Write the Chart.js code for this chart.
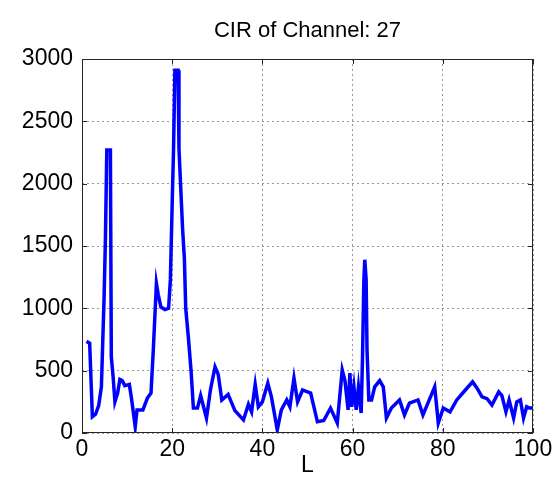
<!DOCTYPE html>
<html lang="en">
<head>
  <meta charset="UTF-8">
  <title>CIR of Channel: 27</title>
  <script src="https://cdn.jsdelivr.net/npm/chart.js"></script>
  <style>
    body { margin: 0; background: #fff; }
    #cir { display: block; }
  </style>
</head>
<body>
<canvas id="cir" width="556" height="501"></canvas>
<script>
  const titleText = "CIR of Channel: 27";
  const xLabel = "L";

  // tap index and impulse response magnitude
  const lags = [
    1, 1.7, 2.3, 3, 3.7, 4.3, 4.9, 5.2, 5.5, 6.3, 6.5, 6.9, 7.3, 7.9, 8.4, 8.9, 9.5, 10.5, 11, 11.8,
    12.2, 13.5, 14.5, 15.3, 15.8, 16.5, 16.9, 17.5, 18.4, 19.2, 19.6, 20, 20.3, 20.6, 21.3, 21.5, 21.9, 22.3, 22.7, 23,
    23.6, 24.2, 24.7, 25.6, 26.3, 27.6, 28.5, 29.5, 30.2, 31, 32.4, 33.9, 35.8, 36.9, 37.6, 38.4, 39.1, 40, 41.2, 42,
    43.3, 44.2, 45.4, 46.1, 47, 47.8, 48.9, 50.7, 52.2, 53.6, 55.1, 56.6, 57.7, 58.3, 59, 59.4, 59.8, 60.3, 60.8, 61.3,
    61.9, 62.2, 62.5, 62.7, 63, 63.2, 63.6, 64.2, 64.9, 66, 66.8, 67.5, 68.6, 70.4, 71.5, 72.6, 74.5, 75.6, 76.7, 78.2,
    79, 80.1, 81.6, 83.1, 85, 86.6, 87.6, 88.7, 89.8, 90.9, 92.4, 93.1, 94, 94.7, 95.7, 96.4, 97.2, 97.9, 98.6, 99.2, 100
  ];
  const cir = [
    735, 720, 130, 150, 220, 370, 1090, 1570, 2270, 2270, 610, 450, 250, 320, 430, 420, 380, 390, 270, 50,
    185, 185, 280, 320, 660, 1200, 1110, 1010, 990, 1000, 1230, 1850, 2280, 2910, 2910, 2280, 1960, 1640, 1400, 1000,
    760, 490, 200, 200, 300, 120, 350, 530, 470, 265, 310, 180, 105, 230, 170, 390, 210, 250, 400, 290,
    25, 185, 265, 210, 440, 250, 345, 320, 90, 100, 200, 80, 505, 420, 185, 480, 210, 370, 185, 370,
    160, 610, 1230, 1390, 1230, 665, 265, 265, 370, 420, 370, 120, 200, 265, 145, 240, 265, 145, 240, 370,
    80, 200, 170, 265, 345, 410, 360, 290, 275, 225, 330, 300, 170, 265, 120, 250, 265, 120, 210, 200, 200
  ];

  const xTicks = [0, 20, 40, 60, 80, 100];
  const yTicks = [0, 500, 1000, 1500, 2000, 2500, 3000];

  // axes box, inward tick marks on all four sides, and the title
  const frame = {
    id: 'frame',
    afterDatasetsDraw(chart) {
      const { ctx, chartArea: a, scales: { x, y } } = chart;
      ctx.save();
      ctx.strokeStyle = '#262626';
      ctx.lineWidth = 1;
      ctx.beginPath();
      xTicks.forEach(v => {
        const px = Math.round(x.getPixelForValue(v)) + 0.5;
        ctx.moveTo(px, a.bottom); ctx.lineTo(px, a.bottom - 5);
        ctx.moveTo(px, a.top); ctx.lineTo(px, a.top + 5);
      });
      yTicks.forEach(v => {
        const py = Math.round(y.getPixelForValue(v)) + 0.5;
        ctx.moveTo(a.left, py); ctx.lineTo(a.left + 5, py);
        ctx.moveTo(a.right, py); ctx.lineTo(a.right - 5, py);
      });
      ctx.stroke();
      ctx.strokeRect(a.left + 0.5, a.top + 0.5, a.width - 1, a.height - 1);

      ctx.fillStyle = '#000';
      ctx.font = '22px Arial';
      ctx.textAlign = 'center';
      ctx.textBaseline = 'middle';
      ctx.fillText(titleText, (a.left + a.right) / 2, 31);
      ctx.restore();
    }
  };

  const tickFont = { family: 'Arial', size: 23 };

  new Chart(document.getElementById('cir'), {
    type: 'line',
    data: {
      datasets: [{
        data: lags.map((l, i) => ({ x: l, y: cir[i] })),
        borderColor: '#0000ff',
        borderWidth: 3.5,
        pointRadius: 0,
        tension: 0,
        fill: false
      }]
    },
    options: {
      responsive: false,
      animation: false,
      layout: { padding: { top: 59, right: 23, left: 0, bottom: 0 } },
      plugins: { legend: { display: false }, tooltip: { enabled: false }, title: { display: false } },
      scales: {
        x: {
          type: 'linear',
          min: 0,
          max: 100,
          afterBuildTicks: s => { s.ticks = xTicks.map(v => ({ value: v })); },
          afterFit: s => { s.height = 68; },
          ticks: { color: '#000', font: tickFont, padding: 3, maxRotation: 0, callback: v => String(v) },
          grid: { color: '#999', drawTicks: false },
          border: { display: false, dash: [2, 3] },
          title: { display: true, text: xLabel, color: '#000', font: { family: 'Arial', size: 23 }, padding: { top: 0, bottom: 22 } }
        },
        y: {
          min: 0,
          max: 3000,
          afterBuildTicks: s => { s.ticks = yTicks.map(v => ({ value: v })); },
          afterFit: s => { s.width = 82; },
          ticks: { color: '#000', font: tickFont, padding: 9, callback: v => String(v) },
          grid: { color: '#999', drawTicks: false },
          border: { display: false, dash: [2, 3] }
        }
      }
    },
    plugins: [frame]
  });
</script>
</body>
</html>
